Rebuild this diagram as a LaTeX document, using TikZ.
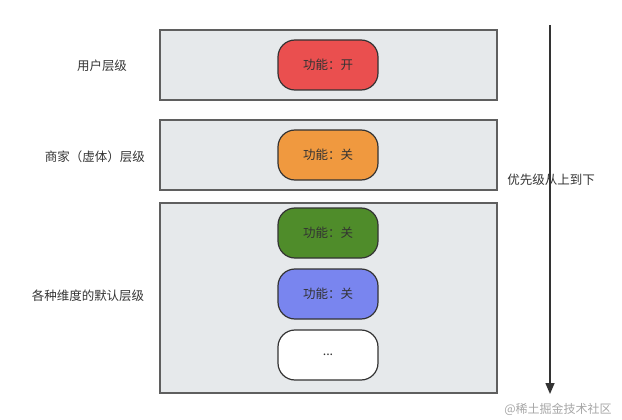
\documentclass[tikz,border=0pt]{standalone}
\usepackage{fontspec}
\setmainfont{Noto Sans CJK SC}
\usetikzlibrary{arrows.meta,positioning}
\definecolor{layerfill}{HTML}{E6E9EB}
\definecolor{layerline}{HTML}{5F5F5F}
\definecolor{txt}{HTML}{333333}
\definecolor{onred}{HTML}{EA4F4F}
\definecolor{offorange}{HTML}{F0993F}
\definecolor{offgreen}{HTML}{4F8C2A}
\definecolor{offblue}{HTML}{7985EF}
\begin{document}
\begin{tikzpicture}[
		x=1pt, y=-1pt,
		every node/.style={font=\fontsize{12.5}{15}\selectfont, text=txt},
		layer/.style={rectangle, draw=layerline, line width=2pt, fill=layerfill, minimum width=337pt, inner sep=0},
		pill/.style={rectangle, rounded corners=17pt, draw=black!80, line width=1.2pt, minimum width=100pt, minimum height=50pt, inner sep=0},
	]
	\useasboundingbox (0,0) rectangle (622,420);
	% layers
	\node[layer, minimum height=70pt] (user) at (328.5,65) {};
	\node[layer, minimum height=70pt] (merchant) at (328.5,155) {};
	\node[layer, minimum height=190pt] (default) at (328.5,298) {};
	\node (userlbl) at (102,66) {用户层级};
	\node (merchantlbl) at (95,157) {商家（虚体）层级};
	\node (defaultlbl) at (88,296) {各种维度的默认层级};
	% switches
	\node[pill, fill=onred] (sw1) at (328,65) {功能：开};
	\node[pill, fill=offorange] (sw2) at (328,155) {功能：关};
	\node[pill, fill=offgreen] (sw3) at (328,233) {功能：关};
	\node[pill, fill=offblue] (sw4) at (328,294) {功能：关};
	\node[pill, fill=white] (sw5) at (328,355) {...};
	% priority
	\coordinate (high) at (550,25);
	\coordinate (low) at (550,394);
	\draw[txt, line width=1.5pt, -{Triangle[width=9pt,length=11pt]}] (high) -- (low);
	\node (prio) at (551,180) {优先级从上到下};
	\node[text=black!35, font=\fontsize{12}{14}\selectfont] (mark) at (558,409) {@稀土掘金技术社区};
\end{tikzpicture}
\end{document}
